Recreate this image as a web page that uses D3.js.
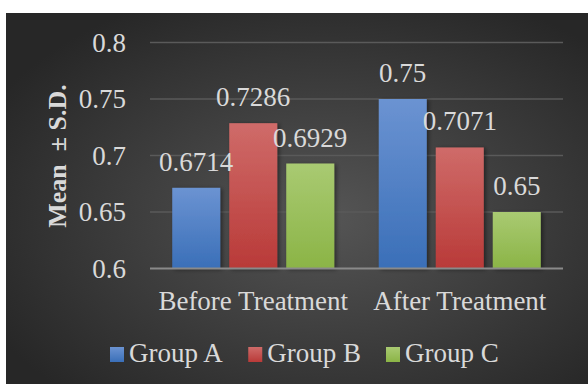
<!DOCTYPE html>
<html>
<head>
<meta charset="utf-8">
<script src="https://cdn.jsdelivr.net/npm/d3@7"></script>
<style>
  body { margin: 0; background: #fff; }
</style>
</head>
<body>
<div id="chart"></div>
<script>
// chart values
const categories = ["Before Treatment", "After Treatment"];
const seriesNames = ["Group A", "Group B", "Group C"];
const groupA = [0.6714, 0.75];
const groupB = [0.7286, 0.7071];
const groupC = [0.6929, 0.65];
const yTicks = [0.6, 0.65, 0.7, 0.75, 0.8];
const labelText = [["0.6714", "0.75"], ["0.7286", "0.7071"], ["0.6929", "0.65"]];

const seriesValues = [groupA, groupB, groupC];

const FONT = "'Liberation Serif', 'Times New Roman', serif";
const TXT = "#d9d9d9";

// gradient colours per series (top, bottom)
const colors = {
    "Group A": ["#6b93d2", "#3a6fb8"],
    "Group B": ["#cf6b69", "#b93a38"],
    "Group C": ["#a9ca72", "#8bb446"]
};

const W = 588, H = 385;
const svg = d3.select("#chart").append("svg")
    .attr("width", W)
    .attr("height", H);

const defs = svg.append("defs");

// background radial gradient
const bg = defs.append("radialGradient")
    .attr("id", "bg")
    .attr("cx", "55%").attr("cy", "55%").attr("r", "65%");
bg.append("stop").attr("offset", "0%").attr("stop-color", "#555555");
bg.append("stop").attr("offset", "100%").attr("stop-color", "#272727");

seriesNames.forEach((s, i) => {
    const g = defs.append("linearGradient")
        .attr("id", "grad" + i)
        .attr("x1", 0).attr("y1", 0).attr("x2", 0).attr("y2", 1);
    g.append("stop").attr("offset", "0%").attr("stop-color", colors[s][0]);
    g.append("stop").attr("offset", "100%").attr("stop-color", colors[s][1]);
});

const shadow = defs.append("filter").attr("id", "shadow")
    .attr("x", "-20%").attr("y", "-20%").attr("width", "150%").attr("height", "140%");
shadow.append("feDropShadow")
    .attr("dx", 2).attr("dy", 1).attr("stdDeviation", 2)
    .attr("flood-color", "#000").attr("flood-opacity", 0.45);

svg.append("rect")
    .attr("x", 6).attr("y", 13)
    .attr("width", W - 6).attr("height", 371)
    .attr("fill", "url(#bg)");

const plot = { left: 150, right: 563, top: 42.5, bottom: 268.5 };

const y = d3.scaleLinear()
    .domain([0.6, 0.8])
    .range([plot.bottom, plot.top]);

const x0 = d3.scaleBand()
    .domain(categories)
    .range([plot.left, plot.right])
    .paddingInner(0.2155)
    .paddingOuter(0.1077);

const x1 = d3.scaleBand()
    .domain(seriesNames)
    .range([0, x0.bandwidth()])
    .paddingInner(0.158);

// gridlines
svg.append("g")
    .selectAll("line")
    .data(yTicks.slice(1))
    .enter().append("line")
    .attr("x1", plot.left).attr("x2", plot.right)
    .attr("y1", d => y(d)).attr("y2", d => y(d))
    .attr("stroke", "#5a5a5a")
    .attr("stroke-width", 1.5);

// y axis tick labels
const yAxis = svg.append("g")
    .attr("transform", `translate(${plot.left},0)`)
    .call(d3.axisLeft(y).tickValues(yTicks).tickSize(0).tickPadding(24).tickFormat(d => String(+d.toFixed(2))));
yAxis.select(".domain").remove();
yAxis.selectAll("text")
    .style("font-family", FONT)
    .style("font-size", "27px")
    .attr("fill", TXT);

// bars
const groups = svg.append("g")
    .selectAll("g")
    .data(categories)
    .enter().append("g")
    .attr("transform", d => `translate(${x0(d)},0)`);

const cells = (c, ci) => seriesNames.map((s, si) => ({ s, si, v: seriesValues[si][ci], label: labelText[si][ci] }));

groups.selectAll("rect")
    .data(cells)
    .enter().append("rect")
    .attr("x", d => x1(d.s))
    .attr("y", d => y(d.v))
    .attr("width", x1.bandwidth())
    .attr("height", d => y(0.6) - y(d.v))
    .attr("fill", d => "url(#grad" + d.si + ")")
    .attr("filter", "url(#shadow)");

groups.selectAll("text")
    .data(cells)
    .enter().append("text")
    .attr("x", d => x1(d.s) + x1.bandwidth() / 2)
    .attr("y", d => y(d.v) - 17)
    .attr("text-anchor", "middle")
    .style("font-family", FONT)
    .style("font-size", "27px")
    .attr("fill", TXT)
    .text(d => d.label);

// baseline
svg.append("line")
    .attr("x1", plot.left).attr("x2", plot.right)
    .attr("y1", y(0.6)).attr("y2", y(0.6))
    .attr("stroke", "#8a8a8a")
    .attr("stroke-width", 2);

// category labels
const xAxis = svg.append("g")
    .attr("transform", `translate(0,${plot.bottom})`)
    .call(d3.axisBottom(x0).tickSize(0).tickPadding(0));
xAxis.select(".domain").remove();
xAxis.selectAll("text")
    .attr("dy", 0)
    .attr("y", 41.5)
    .style("font-family", FONT)
    .style("font-size", "27px")
    .attr("fill", TXT);

// y axis title
svg.append("text")
    .attr("transform", "translate(66,156) rotate(-90)")
    .attr("text-anchor", "middle")
    .style("font-family", FONT)
    .style("font-size", "26px")
    .style("font-weight", "bold")
    .style("white-space", "pre")
    .attr("fill", TXT)
    .text("Mean  \u00b1 S.D.");

// legend
const legend = svg.append("g").attr("transform", "translate(0,362)");
const items = legend.selectAll("g")
    .data(seriesNames)
    .enter().append("g");
items.append("rect")
    .attr("y", -15)
    .attr("width", 14).attr("height", 15)
    .attr("fill", (d, i) => "url(#grad" + i + ")");
items.append("text")
    .attr("x", 19)
    .style("font-family", FONT)
    .style("font-size", "27px")
    .attr("fill", TXT)
    .text(d => d);

let lx = 110;
items.each(function () {
    const w = this.getBBox().width;
    d3.select(this).attr("transform", `translate(${lx},0)`);
    lx += w + 25;
});
</script>
</body>
</html>
